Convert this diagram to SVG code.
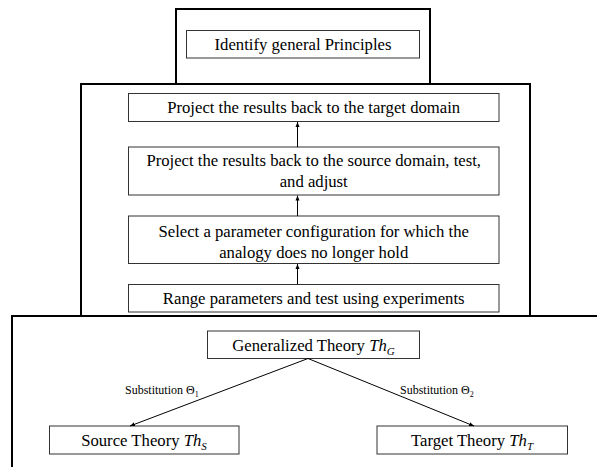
<svg xmlns="http://www.w3.org/2000/svg" width="597" height="467" viewBox="0 0 597 467">
<defs>
<style>
.outer{fill:none;stroke:#000;stroke-width:2}
.box{fill:#fff;stroke:#333;stroke-width:1}
.t{font-family:'Liberation Serif',Tinos,'Times New Roman',Times,'Nimbus Roman','Nimbus Roman No9 L',FreeSerif,'Noto Serif','DejaVu Serif',Georgia,serif;font-size:16.7px;fill:#000;text-anchor:middle}
.lbl{font-family:'Liberation Serif',Tinos,'Times New Roman',Times,'Nimbus Roman','Nimbus Roman No9 L',FreeSerif,'Noto Serif','DejaVu Serif',Georgia,serif;font-size:12px;fill:#000}
.it{font-style:italic}
.ln{stroke:#000;stroke-width:1;fill:none}
</style>
<marker id="ah" viewBox="0 0 10 10" refX="10" refY="5" markerWidth="5" markerHeight="5" orient="auto" markerUnits="userSpaceOnUse">
<path d="M0,1 L10,5 L0,9 Z" fill="#000"/>
</marker>
</defs>
<rect width="597" height="467" fill="#fff"/>
<g id="frame-principles"><rect class="outer" x="176" y="9" width="254" height="75"/></g>
<g id="frame-steps"><rect class="outer" x="81" y="84" width="449" height="232"/></g>
<g id="frame-theories"><rect class="outer" x="12" y="316" width="592" height="160"/></g>

<g id="identify"><rect class="box" x="186.5" y="30.5" width="233" height="27.5"/>
<text class="t" x="303" y="49.5">Identify general Principles</text></g>

<g id="target-domain"><rect class="box" x="128.5" y="93.5" width="370.5" height="28"/>
<text class="t" x="313.7" y="113">Project the results back to the target domain</text></g>

<g id="source-domain"><rect class="box" x="128.5" y="147" width="370.5" height="48"/>
<text class="t" x="313.7" y="165.5">Project the results back to the source domain, test,</text>
<text class="t" x="313.7" y="187">and adjust</text></g>

<g id="select"><rect class="box" x="128.5" y="216" width="370.5" height="47.5"/>
<text class="t" x="313.7" y="236.5">Select a parameter configuration for which the</text>
<text class="t" x="313.7" y="257.5">analogy does no longer hold</text></g>

<g id="range"><rect class="box" x="128.5" y="284.5" width="370.5" height="27.5"/>
<text class="t" x="313.7" y="304">Range parameters and test using experiments</text></g>

<g id="generalized"><rect class="box" x="207.5" y="331" width="212" height="27.5"/>
<text class="t" x="313.5" y="350.5">Generalized Theory <tspan class="it">Th</tspan><tspan class="it" font-size="11" dy="4">G</tspan></text></g>

<g id="source-theory"><rect class="box" x="49.5" y="426" width="189.5" height="28"/>
<text class="t" x="144" y="445.5">Source Theory <tspan class="it">Th</tspan><tspan class="it" font-size="11" dy="4">S</tspan></text></g>

<g id="target-theory"><rect class="box" x="377" y="426" width="190.5" height="28"/>
<text class="t" x="472" y="445.5">Target Theory <tspan class="it">Th</tspan><tspan class="it" font-size="11" dy="4">T</tspan></text></g>

<g id="connectors">
<line class="ln" x1="297.5" y1="147" x2="297.5" y2="122" marker-end="url(#ah)"/>
<line class="ln" x1="297.5" y1="216" x2="297.5" y2="195.5" marker-end="url(#ah)"/>
<line class="ln" x1="297.5" y1="284.5" x2="297.5" y2="264" marker-end="url(#ah)"/>
<line class="ln" x1="308" y1="358.5" x2="130" y2="426" marker-end="url(#ah)"/>
<line class="ln" x1="308" y1="358.5" x2="474" y2="426" marker-end="url(#ah)"/>
<text class="lbl" x="125" y="394">Substitution Θ<tspan font-size="8" dy="3">1</tspan></text>
<text class="lbl" x="400" y="394">Substitution Θ<tspan font-size="8" dy="3">2</tspan></text>
</g>
</svg>
